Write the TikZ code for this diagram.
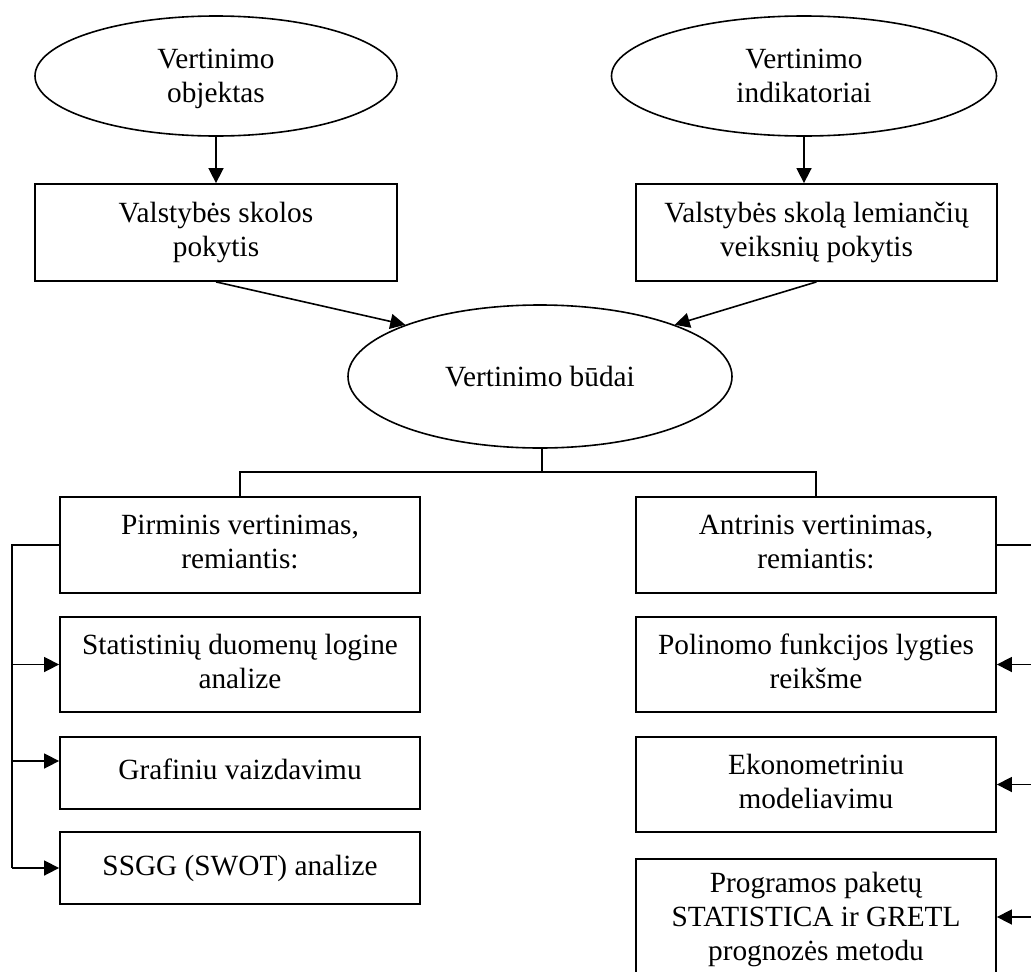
\documentclass[tikz,border=0pt]{standalone}
\usepackage{fontspec}
\setmainfont{Liberation Serif}
\usetikzlibrary{shapes.geometric,arrows.meta}
\newcommand{\nodep}{\raisebox{0pt}[\height][0pt]}
\begin{document}
\begin{tikzpicture}[x=1pt,y=-1pt,
  every node/.style={font=\fontsize{29.3}{34}\selectfont, align=center, inner sep=0pt},
  oval/.style={draw, ellipse, line width=1.6pt},
  box/.style={draw, rectangle, line width=1.8pt, minimum width=360pt},
  conn/.style={line width=1.6pt},
  arr/.style={line width=1.6pt, -{Triangle[length=15pt,width=15pt]}}]
\useasboundingbox (0,0) rectangle (1031,972);
\clip (0,0) rectangle (1031,972);
% top row
\node[oval, minimum width=362pt, minimum height=120pt] (e1) at (216,76) {Vertinimo\\\nodep{objektas}};
\node[oval, minimum width=385pt, minimum height=120pt] (e2) at (804,76) {Vertinimo\\indikatoriai};
\node[box, minimum width=362pt, minimum height=97pt] (b1) at (216,232.5) {Valstybės skolos\\pokytis};
\node[box, minimum width=361pt, minimum height=97pt] (b2) at (816.5,232.5) {Valstybės skolą lemiančių\\veiksnių pokytis};
\node[oval, minimum width=384pt, minimum height=143pt] (e3) at (540,376.5) {\raisebox{-8pt}{Vertinimo būdai}};
% second level
\node[box, minimum height=96pt] (p) at (240,545) {Pirminis vertinimas,\\remiantis:\vphantom{p}};
\node[box, minimum height=96pt] (a) at (816,545) {Antrinis vertinimas,\\remiantis:\vphantom{p}};
% left column
\node[box, minimum height=95pt] (s1) at (240,664.5) {Statistinių duomenų logine\\analize\vphantom{p}};
\node[box, minimum height=72pt] (s2) at (240,773) {\raisebox{7pt}{Grafiniu vaizdavimu}};
\node[box, minimum height=72pt] (s3) at (240,868) {\raisebox{4pt}{SSGG (SWOT) analize}};
% right column
\node[box, minimum height=95pt] (r1) at (816,664.5) {Polinomo funkcijos lygties\\reikšme\vphantom{p}};
\node[box, minimum height=95pt] (r2) at (816,784.5) {Ekonometriniu\\modeliavimu\vphantom{p}};
\node[box, minimum height=120pt] (r3) at (816,919) {Programos paketų\\STATISTICA ir GRETL\\prognozės metodu};
% connectors top
\draw[arr] (e1.south) -- (b1.north);
\draw[arr] (e2.south) -- (e2.south |- b2.north);
\draw[arr] (b1.south) -- (e3.159);
\draw[arr] (b2.south) -- (e3.21);
% tree
\coordinate (j) at (542,472);
\draw[conn] (e3.south -| j) -- (j);
\draw[conn] (p.north) |- (j) -| (a.north);
% left bus
\coordinate (lb) at (12,545);
\draw[conn] (p.west) -- (lb) -- (lb |- s3.west);
\draw[arr] (lb |- s1.west) -- (s1.west);
\draw[arr] ([yshift=12pt]s2.west -| lb) -- ([yshift=12pt]s2.west);
\draw[arr] (lb |- s3.west) -- (s3.west);
% right bus
\coordinate (rb) at (1036,545);
\draw[conn] (a.east) -- (rb) -- (rb |- r3.east);
\draw[arr] (rb |- r1.east) -- (r1.east);
\draw[arr] (rb |- r2.east) -- (r2.east);
\draw[arr] ([yshift=2pt]r3.east -| rb) -- ([yshift=2pt]r3.east);
\end{tikzpicture}
\end{document}
